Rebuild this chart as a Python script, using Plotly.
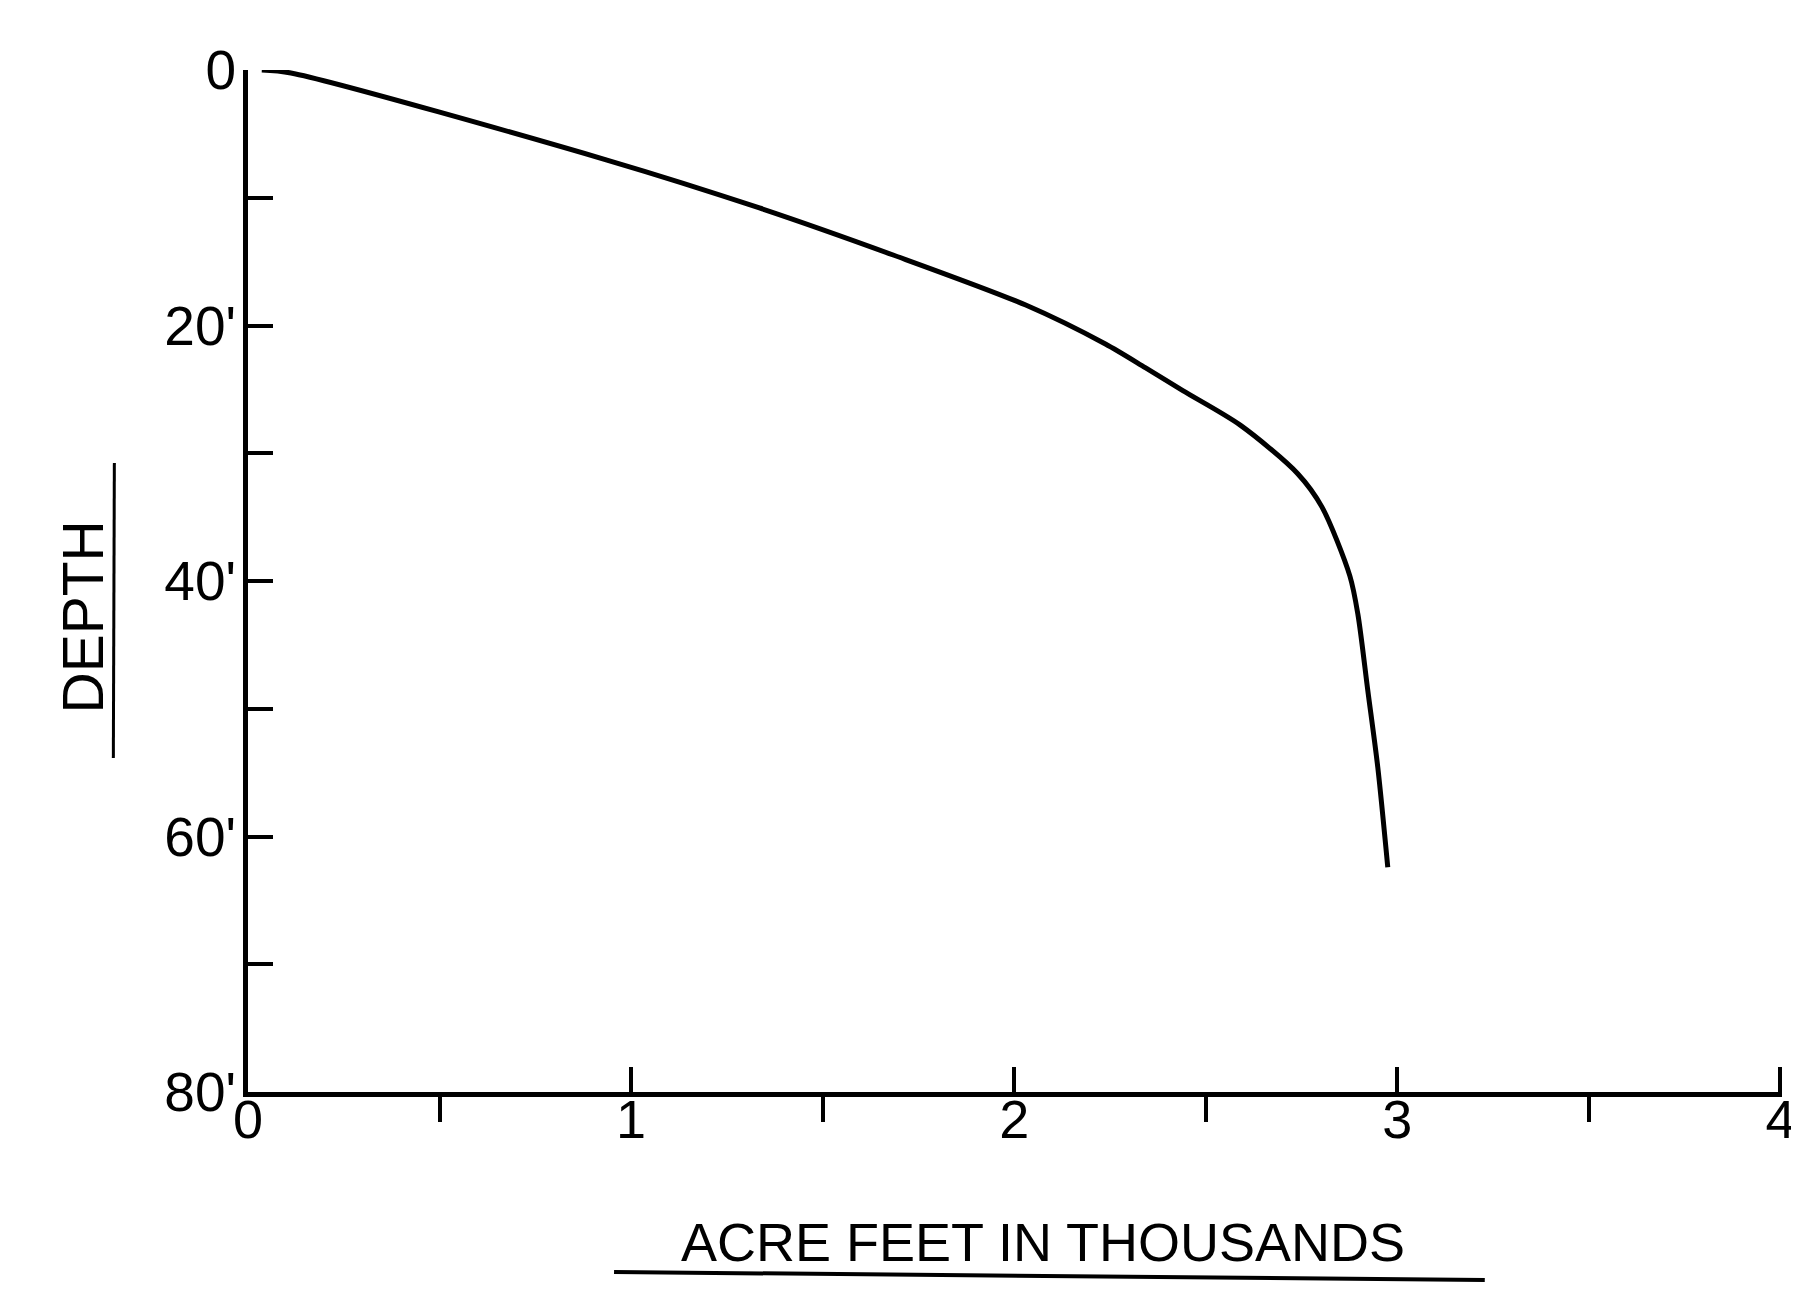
import plotly.graph_objects as go

# Curve data (acre-feet in thousands vs depth in feet)
acre_feet_k = [0.036, 0.112, 0.937, 1.335, 1.684, 2.030, 2.238, 2.342,
               2.440, 2.590, 2.740, 2.803, 2.876, 2.897, 2.923, 2.949, 2.975]
depth_ft = [0.0, 0.23, 7.05, 10.8, 14.48, 18.4, 21.45, 23.3,
            25.1, 27.8, 31.6, 34.2, 39.6, 42.6, 48.6, 54.6, 62.4]

x_major_vals = [0, 1, 2, 3, 4]
x_major_text = ["0", "1", "2", "3", "4"]
x_minor_vals = [0.5, 1.5, 2.5, 3.5]
y_tick_vals = [0, 10, 20, 30, 40, 50, 60, 70, 80]
y_tick_text = ["0", "", "20'", "", "40'", "", "60'", "", "80'"]

W, H = 1799, 1310
L, R, T, B = 240, 21, 62, 226
pw, ph = W - L - R, H - T - B

def px(x):
    return (x - L) / pw

def py(y):
    return (H - B - y) / ph

FONT = "Liberation Sans, Arial, sans-serif"

fig = go.Figure()
fig.add_trace(go.Scatter(
    x=acre_feet_k, y=depth_ft, mode="lines",
    line=dict(color="black", width=5, shape="spline", smoothing=0.8),
    cliponaxis=False, showlegend=False, hoverinfo="skip"))

fig.update_layout(
    width=W, height=H,
    margin=dict(l=L, r=R, t=T, b=B, pad=0),
    paper_bgcolor="white", plot_bgcolor="white",
    font=dict(family=FONT, color="black", size=54),
    showlegend=False,
    xaxis=dict(
        range=[0, 4.004], showgrid=False, zeroline=False,
        showline=True, linecolor="black", linewidth=5,
        tickmode="array", tickvals=x_major_vals, ticktext=x_major_text,
        ticks="inside", ticklen=25, tickwidth=4, tickcolor="black",
        tickfont=dict(size=54, family=FONT),
        ticklabelstandoff=-24,
        minor=dict(tickmode="array", tickvals=x_minor_vals, ticks="outside",
                   ticklen=25, tickwidth=4, tickcolor="black", showgrid=False),
    ),
    yaxis=dict(
        range=[80, 0], showgrid=False, zeroline=False,
        showline=True, linecolor="black", linewidth=5,
        tickmode="array", tickvals=y_tick_vals, ticktext=y_tick_text,
        ticks="inside", ticklen=25, tickwidth=4, tickcolor="black",
        tickfont=dict(size=55, family=FONT),
        ticklabelstandoff=-4,
    ),
    annotations=[
        dict(text="ACRE FEET IN THOUSANDS", xref="paper", yref="paper",
             x=px(1037), y=py(1234), xanchor="center", yanchor="middle",
             showarrow=False, font=dict(size=54, family=FONT, color="black")),
        dict(text="DEPTH", xref="paper", yref="paper",
             x=px(75), y=py(609), xanchor="center", yanchor="middle",
             textangle=-90, showarrow=False,
             font=dict(size=57, family=FONT, color="black")),
    ],
    shapes=[
        dict(type="line", xref="paper", yref="paper",
             x0=px(607), y0=py(1264), x1=px(1480), y1=py(1272),
             line=dict(color="black", width=4)),
        dict(type="line", xref="paper", yref="paper",
             x0=px(106), y0=py(455), x1=px(105), y1=py(750),
             line=dict(color="black", width=3)),
    ],
)

fig.write_html("out.html")
